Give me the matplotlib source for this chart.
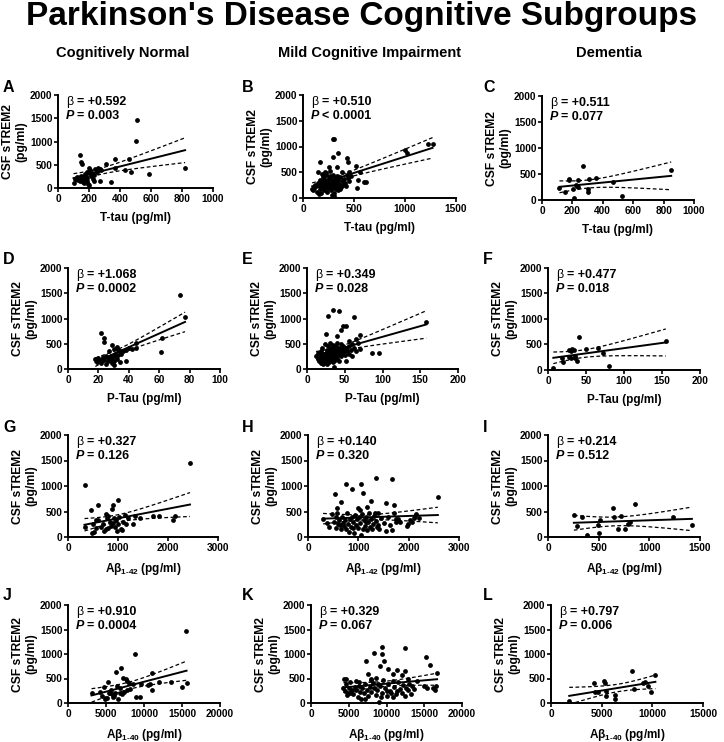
import numpy as np
import matplotlib
matplotlib.use("Agg")
import matplotlib.pyplot as plt

plt.rcParams['font.family'] = ['Liberation Sans', 'DejaVu Sans']
plt.rcParams['font.weight'] = 'bold'
plt.rcParams['mathtext.fontset'] = 'custom'
plt.rcParams['mathtext.rm'] = 'Liberation Sans:bold'
plt.rcParams['mathtext.bf'] = 'Liberation Sans:bold'

# --- data (x in pg/ml, y = CSF sTREM2 pg/ml) ---
# Cognitively normal, T-tau
a_x = [510, 500, 145, 150, 155, 310, 365, 460, 370, 430, 470, 590, 820, 340, 270,
       100, 110, 130, 140, 145, 150, 155, 160, 165, 170, 175, 180, 185, 190, 195,
       200, 205, 210, 215, 220, 225, 230, 240, 250, 260, 270, 200, 190, 170, 230,
       120, 280]
a_y = [1460, 1010, 720, 550, 520, 520, 620, 620, 420, 390, 340, 310, 430, 120, 160,
       110, 200, 180, 220, 150, 250, 190, 120, 210, 170, 300, 260, 150, 350, 90,
       440, 380, 300, 250, 330, 200, 280, 400, 350, 420, 400, 70, 220, 100, 150,
       230, 380]
# MCI, T-tau
b_x = [1000, 1020, 1230, 1270, 520, 560, 540, 530, 600, 620, 290, 300, 340, 290, 430,
       440, 170, 250, 330, 260, 220, 150, 380, 450, 300,
       90, 100, 110, 120, 130, 140, 150, 155, 160, 165, 170, 175, 180, 185, 190,
       195, 200, 205, 210, 215, 220, 225, 230, 235, 240, 245, 250, 255, 260, 265,
       270, 275, 280, 285, 290, 295, 300, 305, 310, 315, 320, 325, 330, 335, 340,
       345, 350, 360, 370, 380, 390, 400, 410, 420, 430, 440, 455, 470, 360, 280,
       230, 190]
b_y = [940, 870, 1050, 1040, 620, 500, 350, 200, 310, 310, 1150, 1140, 870, 800, 780,
       700, 700, 600, 600, 520, 500, 500, 500, 500, 40,
       170, 150, 200, 260, 230, 120, 300, 80, 250, 350, 180, 280, 100, 220, 320,
       400, 270, 150, 360, 210, 300, 440, 250, 120, 330, 190, 280, 380, 230, 420,
       160, 300, 350, 250, 200, 450, 320, 100, 260, 380, 180, 300, 420, 240, 340,
       150, 280, 400, 220, 330, 260, 360, 300, 240, 440, 380, 330, 430, 180, 60,
       480, 460]
# Dementia, T-tau
c_x = [115, 150, 175, 180, 205, 210, 225, 235, 240, 270, 300, 300, 310, 355, 470, 525,
       850, 230]
c_y = [240, 150, 390, 400, 220, 40, 290, 250, 390, 650, 220, 160, 410, 430, 340, 80,
       570, 270]
# Cognitively normal, P-tau
d_x = [74, 77, 62, 61, 45, 45, 40, 38, 22, 24, 24, 29, 30, 32, 33, 34, 35, 31, 28, 27,
       26, 25, 30, 29, 27, 18, 19, 20, 21, 22, 23, 24, 25, 26, 28, 29, 30, 31, 32, 33,
       34, 35, 36, 42, 38]
d_y = [1460, 1020, 620, 330, 520, 420, 420, 160, 720, 620, 540, 470, 400, 440, 380, 350,
       330, 300, 250, 200, 150, 100, 70, 120, 350, 200, 140, 210, 180, 120, 230, 170,
       260, 220, 180, 220, 150, 250, 200, 280, 140, 300, 350, 400, 380]
# MCI, P-tau
e_x = [158, 86, 96, 62, 35, 43, 28, 48, 52, 45, 25, 70, 65, 40, 55, 60,
       12, 14, 15, 16, 17, 18, 18, 19, 20, 20, 21, 22, 22, 23, 24, 24, 25, 25, 26, 26,
       27, 27, 28, 28, 29, 29, 30, 30, 31, 31, 32, 32, 33, 33, 34, 34, 35, 35, 36, 36,
       37, 37, 38, 38, 39, 40, 40, 41, 42, 42, 43, 44, 45, 45, 46, 47, 48, 49, 50, 51,
       52, 53, 55, 56, 58, 60, 62, 65, 68, 70]
e_y = [940, 310, 310, 1030, 1160, 1140, 1040, 860, 850, 780, 700, 680, 600, 650, 560, 500,
       260, 200, 310, 160, 240, 120, 350, 280, 200, 420, 90, 300, 180, 240, 140, 500,
       320, 220, 380, 100, 260, 180, 450, 300, 220, 130, 360, 510, 250, 170, 310, 420,
       200, 280, 480, 140, 340, 230, 390, 40, 300, 180, 450, 260, 330, 220, 520, 380,
       290, 160, 420, 340, 250, 500, 380, 300, 450, 360, 280, 420, 160, 350, 300, 450,
       380, 250, 420, 350, 520, 400]
# Dementia, P-tau
f_x = [7, 18, 20, 27, 28, 30, 32, 34, 35, 36, 38, 41, 50, 66, 72, 80, 155, 30]
f_y = [40, 240, 150, 400, 250, 230, 410, 400, 280, 230, 170, 650, 420, 430, 340, 80,
       570, 380]
# Cognitively normal, Abeta 1-42
g_x = [2440, 330, 1000, 600, 900, 460, 880, 760, 800, 550, 600, 330, 500, 560, 520, 480,
       700, 720, 760, 800, 840, 860, 900, 920, 940, 960, 980, 1000, 1020, 1050, 1080,
       1100, 1140, 1200, 1300, 1340, 1440, 1700, 1820, 2100, 2140, 650, 780, 1150]
g_y = [1460, 1010, 720, 620, 620, 520, 540, 460, 420, 330, 330, 190, 260, 180, 100, 70,
       260, 120, 160, 180, 300, 220, 280, 380, 200, 340, 120, 250, 400, 160, 130,
       300, 430, 380, 260, 420, 370, 420, 420, 340, 410, 200, 380, 260]
# MCI, Abeta 1-42
h_x = [2580, 1350, 1660, 760, 1060, 880, 1100, 530, 660, 1250, 1540, 1700, 1180, 580,
       1000, 1040,
       300, 380, 420, 480, 520, 560, 580, 600, 620, 650, 680, 700, 720, 740, 760, 780,
       800, 820, 840, 860, 880, 900, 920, 940, 960, 980, 1000, 1020, 1040, 1060, 1080,
       1100, 1120, 1140, 1160, 1180, 1200, 1220, 1240, 1260, 1280, 1300, 1320, 1340,
       1360, 1380, 1400, 1420, 1460, 1500, 1540, 1580, 1620, 1660, 1700, 1740, 1780,
       1820, 1960, 1980, 2020, 2060, 2100, 2140, 2200, 560, 640, 900, 1150, 1400, 1750,
       2120]
h_y = [780, 1150, 1130, 1030, 1040, 940, 870, 850, 690, 700, 660, 620, 590, 560,
       560, 530,
       360, 280, 200, 460, 300, 180, 480, 250, 330, 150, 400, 280, 210, 330, 160, 480,
       260, 90, 350, 200, 400, 300, 80, 440, 240, 350, 180, 400, 280, 30, 460,
       150, 330, 220, 400, 130, 300, 480, 200, 350, 150, 260, 420, 480,
       320, 200, 480, 150, 370, 280, 120, 400, 230, 140, 480, 350, 360,
       300, 220, 260, 340, 300, 380, 450, 380, 400, 240, 170, 300, 230, 290,
       420]
# Dementia, Abeta 1-42
i_x = [255, 290, 340, 380, 490, 500, 510, 640, 650, 690, 720, 760, 790, 810, 860, 1230,
       1420]
i_y = [430, 210, 400, 40, 240, 80, 330, 560, 390, 150, 410, 150, 250, 290, 650, 390,
       230]
# Cognitively normal, Abeta 1-40
j_x = [15500, 8800, 7000, 6300, 11100, 7200, 7600, 5300, 7800, 8000, 4700, 3100, 6400,
       5800, 6000, 5900, 6200, 4500, 4900, 5100, 5600, 6600, 6900, 7400, 7700, 8100,
       8600, 8900, 9500, 9600, 10500, 10800, 11000, 12000, 13500, 15000, 15600, 6800,
       5400, 7100, 4200]
j_y = [1460, 1010, 720, 630, 620, 520, 500, 430, 450, 400, 320, 200, 350, 180, 150,
       120, 210, 150, 80, 100, 260, 90, 300, 230, 260, 280, 380, 130, 130, 380, 360,
       380, 260, 420, 420, 330, 410, 210, 200, 190, 230]
# MCI, Abeta 1-40
k_x = [9400, 12500, 8300, 9400, 7300, 9700, 15200, 9100, 15700, 10200, 11400, 7600,
       12400, 16700, 12000, 10800, 8000, 8600, 4700, 4400,
       4300, 4500, 4700, 4900, 5000, 5200, 5400, 5600, 5800, 6000, 6200, 6300, 6500,
       6600, 6800, 7000, 7200, 7400, 7600, 7800, 8000, 8200, 8400, 8600, 8800, 9000,
       9200, 9400, 9600, 9800, 10000, 10200, 10400, 10600, 10800, 11000, 11200, 11500,
       11800, 12000, 12200, 12400, 12600, 12800, 13000, 13200, 13600, 14000, 15000,
       15400, 16200, 16400, 16500, 5900, 7100, 8900, 10900, 12800, 6400, 4800, 9300,
       11400, 13400, 7900, 5100, 10000]
k_y = [1150, 1130, 1030, 1010, 850, 860, 940, 760, 780, 700, 680, 600,
       650, 610, 580, 590, 500, 510, 500, 490,
       300, 250, 380, 200, 300, 420, 260, 180, 320, 270, 120, 420, 230,
       80, 310, 200, 380, 260, 150, 330, 220, 400, 300, 170, 260, 20,
       340, 210, 460, 300, 150, 380, 250, 200, 130, 320, 180, 420,
       280, 210, 370, 150, 300, 260, 380, 180, 280, 440, 350,
       310, 300, 270, 350, 450, 90, 390, 450, 480, 340, 160, 120,
       250, 350, 460, 210, 240]
# Dementia, Abeta 1-40
l_x = [1800, 4200, 4300, 4600, 5200, 5300, 5400, 5400, 6300, 6300, 8000, 8200, 9100,
       9300, 9600, 9900, 10300]
l_y = [40, 400, 230, 220, 440, 400, 250, 150, 160, 80, 650, 290, 400, 420, 340, 220, 570]

xs_all = [a_x, b_x, c_x, d_x, e_x, f_x, g_x, h_x, i_x, j_x, k_x, l_x]
ys_all = [a_y, b_y, c_y, d_y, e_y, f_y, g_y, h_y, i_y, j_y, k_y, l_y]
letters = list('ABCDEFGHIJKL')
betas = ['+0.592', '+0.510', '+0.511', '+1.068', '+0.349', '+0.477',
         '+0.327', '+0.140', '+0.214', '+0.910', '+0.329', '+0.797']
pvals = ['= 0.003', '< 0.0001', '= 0.077', '= 0.0002', '= 0.028', '= 0.018',
         '= 0.126', '= 0.320', '= 0.512', '= 0.0004', '= 0.067', '= 0.006']
xmaxes = [1000, 1500, 1000, 100, 200, 200, 3000, 3000, 1500, 20000, 20000, 15000]
xsteps = [200, 500, 200, 20, 50, 50, 1000, 1000, 500, 5000, 5000, 5000]
xlabels = ['T-tau (pg/ml)'] * 3 + ['P-Tau (pg/ml)'] * 3 + \
          [r'Aβ$_{\text{1-42}}$ (pg/ml)'] * 3 + \
          [r'Aβ$_{\text{1-40}}$ (pg/ml)'] * 3
col_titles = ['Cognitively Normal', 'Mild Cognitive Impairment', 'Dementia']

# axes boxes in pixels: left, right, top, bottom
boxes = [(58, 213, 95, 188), (303, 456, 95, 198), (542, 694, 96, 200),
         (68, 220, 268, 369), (307, 458, 268, 369), (548, 700, 268, 370),
         (68, 218, 435, 537), (308, 459, 435, 537), (548, 700, 435, 537),
         (68, 220, 605, 703), (311, 462, 605, 703), (551, 703, 605, 703)]
W, H = 724, 742


def draw_panel(ax, x, y, xmax, step, xlabel, beta, pval):
    x = np.asarray(x, float)
    y = np.asarray(y, float)
    ax.scatter(x, y, s=12, color='black', zorder=3, clip_on=False, linewidths=0)

    # linear fit with 95% confidence band
    slope, icpt = np.polyfit(x, y, 1)
    n = len(x)
    s = np.sqrt(np.sum((y - (slope * x + icpt)) ** 2) / (n - 2))
    sxx = np.sum((x - x.mean()) ** 2)
    t = 1.96 + 2.5 / (n - 2)
    xx = np.linspace(x.min(), x.max(), 100)
    yy = slope * xx + icpt
    half = t * s * np.sqrt(1 / n + (xx - x.mean()) ** 2 / sxx)
    ax.plot(xx, yy, color='black', lw=1.4)
    ax.plot(xx, yy + half, color='black', lw=0.9, dashes=(3, 2))
    ax.plot(xx, yy - half, color='black', lw=0.9, dashes=(3, 2))

    ax.set_xlim(0, xmax)
    ax.set_ylim(0, 2000)
    ax.set_xticks(np.arange(0, xmax + 1, step))
    ax.set_yticks(np.arange(0, 2001, 500))
    for sp in ['top', 'right']:
        ax.spines[sp].set_visible(False)
    for sp in ['left', 'bottom']:
        ax.spines[sp].set_linewidth(1.4)
    ax.tick_params(direction='out', length=3, width=1.2, labelsize=7.3, pad=1)
    ax.set_xlabel(xlabel, fontsize=8.5, fontweight='bold', labelpad=6)
    ax.set_ylabel('CSF sTREM2\n(pg/ml)', fontsize=8.7, fontweight='bold',
                  labelpad=2, linespacing=1.1)

    ax.annotate('β', xy=(0, 1), xycoords='axes fraction', xytext=(8, -7),
                textcoords='offset pixels', fontsize=9, fontweight='normal',
                ha='left', va='center')
    ax.annotate('= ' + beta, xy=(0, 1), xycoords='axes fraction', xytext=(19, -7),
                textcoords='offset pixels', fontsize=9, fontweight='bold',
                ha='left', va='center')
    ax.annotate('P', xy=(0, 1), xycoords='axes fraction', xytext=(8, -21),
                textcoords='offset pixels', fontsize=9, fontweight='bold',
                fontstyle='italic', ha='left', va='center')
    ax.annotate(pval, xy=(0, 1), xycoords='axes fraction', xytext=(19, -21),
                textcoords='offset pixels', fontsize=9, fontweight='bold',
                ha='left', va='center')


fig = plt.figure(figsize=(W / 100, H / 100), dpi=100)
fig.text(362 / W, 1 - 16 / H, "Parkinson's Disease Cognitive Subgroups",
         ha='center', va='center', fontsize=24, fontweight='bold')
for cx, title in zip([123, 370, 609], col_titles):
    fig.text(cx / W, 1 - 53 / H, title, ha='center', va='center',
             fontsize=10.5, fontweight='bold')

letter_pos = [(3, 87), (242, 87), (483, 87), (3, 259), (242, 259), (483, 259),
              (3, 428), (242, 428), (483, 428), (3, 596), (242, 596), (483, 596)]

for i in range(12):
    l, r, t, b = boxes[i]
    ax = fig.add_axes([l / W, 1 - b / H, (r - l) / W, (b - t) / H])
    draw_panel(ax, xs_all[i], ys_all[i], xmaxes[i], xsteps[i], xlabels[i],
               betas[i], pvals[i])
    lx, ly = letter_pos[i]
    fig.text(lx / W, 1 - ly / H, letters[i], ha='left', va='center',
             fontsize=11.5, fontweight='bold')

fig.savefig('out.png', dpi=100)
